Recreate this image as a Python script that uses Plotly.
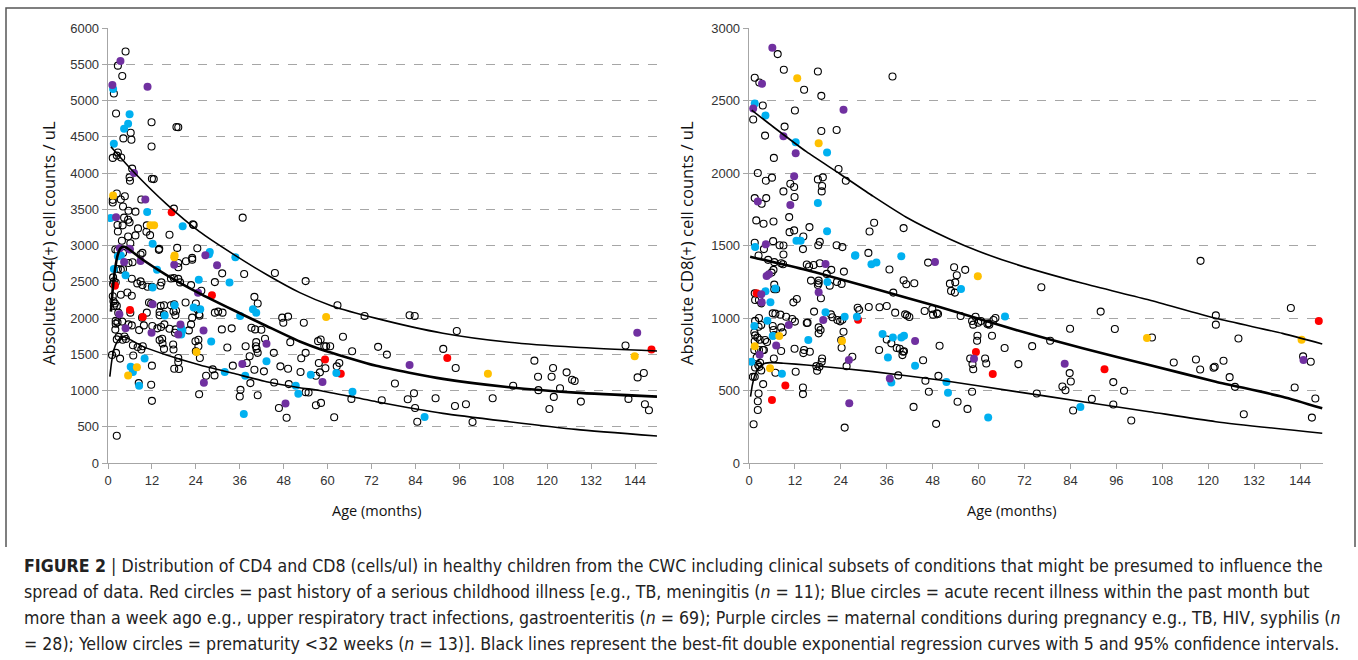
import plotly.graph_objects as go

# ---------------- DATA (age in months, cells/uL) ----------------
CD4_OPEN = [(4.8,5676),(2.7,5481),(3.9,5338),(1.6,5097),(2.2,4820),(6.2,4556),(4.2,4477),(6.4,4458),(11.9,4699),(18.7,4634),(19.2,4630),(11.9,4366),(2.7,4282),(1.3,4208),(3.6,4213),(2.4,4240),(6.6,4060),(5.9,3940),(6.0,3893),(12.0,3921),(12.5,3916),(2.4,3717),(4.6,3680),(1.3,3630),(1.3,3593),(3.5,3634),(9.1,3634),(4.1,3537),(5.6,3480),(7.5,3467),(18.0,3509),(36.8,3384),(4.4,3384),(5.5,3356),(2.6,3282),(4.0,3278),(5.9,3319),(8.2,3236),(10.6,3278),(23.2,3292),(23.4,3282),(2.7,3194),(10.5,3190),(7.5,3139),(5.5,3125),(11.5,3143),(16.8,3148),(3.8,3065),(6.1,3032),(2.0,2944),(13.9,2940),(18.9,2967),(24.4,2963),(8.9,2875),(23.0,2805),
(2.6,2931),(4.1,2898),(14.0,2954),(5.6,2759),(2.7,2676),(3.5,2667),(4.1,2676),(6.7,2769),(9.4,2898),(19.2,2759),(19.2,2699),(23.0,2829),(21.3,2783),(31.2,2616),(37.2,2607),(45.6,2621),(54.0,2509),(25.5,2375),(22.7,2454),(29.2,2495),(18.0,2550),(19.2,2540),(17.2,2545),(19.7,2491),(14.6,2491),(14.3,2445),(12.0,2431),(10.8,2431),(8.0,2477),(8.9,2505),(9.4,2454),(6.5,2542),(1.4,2560),(1.6,2505),(1.4,2470),(2.1,2490),(1.3,2300),(1.5,2230),(1.9,2199),(2.4,2167),(1.6,2167),(5.3,2352),(6.5,2306),(3.5,2320),(11.2,2213),(11.8,2199),(14.4,2167),(15.3,2176),(17.2,2176),(18.1,2190),(21.2,2213),(24.0,2199),(24.4,2120),(6.1,2074),(2.8,2074),(9.3,2005),(2.1,1960),(2.6,1940),(3.9,1950),(8.5,1833),(5.6,1912),(6.5,1898),(14.1,2083),(14.1,2037),(15.3,2051),(18.6,2100),(17.9,2088),(18.4,2037),(15.4,1912),(14.5,1875),(13.5,1857),(16.8,1852),(18.5,1843),(18.3,1796),(23.0,2005),(24.9,2051),(25.0,2030),(29.2,2074),(30.1,2088),(31.3,2074),(31.1,1843),(33.8,1857),(40.0,2292),(40.9,2199),(39.2,1866),(40.2,1843),(41.9,1838),(49.2,2019),(47.6,2005),(47.9,1935),(53.5,1935),(62.7,2176),(70.1,2028),(82.4,2037),(83.8,2028),(95.3,1820),(64.2,1741),(58.1,1704),(57.4,1681),(60.7,1611),(59.6,1611),(59.1,1611),(66.7,1542),(73.8,1602),(76.2,1495),(91.6,1574),(141.4,1620),(116.5,1412),(121.6,1310),(121.2,1190),(117.5,1190),(125.3,1250),(126.8,1148),(127.5,1130),(110.7,1065),(117.6,1005),(123.5,1032),(121.8,912),(129.2,847),(142.2,884),(144.7,1181),(146.4,1241),(146.7,810),(147.8,727),(120.6,745),(105.1,894),(97.8,810),(94.8,787),(95.0,1310),(99.6,565),(89.5,894),(81.9,880),(83.6,963),(83.9,759),(84.5,569),(78.4,1097),(74.8,866),(66.5,884),(62.5,1333),(63.2,1380),(59.4,1306),(57.6,1380),(57.9,1250),(56.8,1204),(58.2,829),(56.8,796),(61.8,630),(52.8,1445),(54.0,1519),(49.8,1667),(45.3,1519),(49.2,1301),(47.1,1333),(52.6,1255),(54.0,977),(54.8,972),(49.4,1088),(45.4,1111),(46.7,759),(48.8,625),(42.9,1713),(40.5,1667),(40.4,1611),(40.6,1574),(40.9,1519),(37.6,1611),(37.9,1380),(38.7,1472),(38.9,1102),(36.2,1009),(36.0,917),(40.9,935),(40.0,1287),(42.6,1264),(34.1,1343),(32.6,1593),(28.6,1292),(29.1,1208),(26.8,1204),(24.9,949),(24.0,1540),(24.7,1610),(23.9,1680),(24.7,1700),(25.1,1449),(22.1,1829),(22.7,1912),(19.2,1394),(19.2,1449),(19.4,1296),(18.1,1301),(17.9,1565),(17.8,1634),(15.3,1574),(14.9,1648),(14.1,1695),(14.8,1713),(12.0,1343),(11.8,1079),(12.0,857),(8.4,1102),(9.1,1565),(9.5,1611),(8.1,1600),(6.8,1625),(6.9,1482),(3.3,1440),(2.2,1519),(1.1,1491),(2.4,375),(4.0,1700),(4.9,1710),(4.5,1745),(2.9,1740),(2.4,1705),(2.0,1840),(2.1,1920),(9.8,1898),(12.1,1889),(10.6,2074)]
CD4_RED = [(17.4,3458),(1.9,2445),(28.4,2315),(6.0,2111),(9.5,2014),(59.3,1426),(63.6,1232),(92.7,1449),(148.5,1565)]
CD4_BLUE = [(1.4,5157),(5.9,4810),(5.5,4680),(4.4,4611),(1.6,4403),(10.7,3463),(0.7,3379),(20.4,3264),(12.2,3023),(27.6,2880),(34.8,2838),(2.7,2852),(3.5,2861),(1.6,2676),(4.8,2588),(13.4,2667),(27.8,2912),(24.8,2528),(33.2,2491),(12.2,2421),(18.2,2176),(25.2,2120),(23.4,2144),(15.5,2033),(20.0,1862),(20.3,1829),(20.0,1773),(36.1,2028),(39.6,2120),(40.5,2074),(43.3,1403),(37.5,1204),(37.1,676),(28.2,1676),(31.9,1255),(10.0,1440),(8.5,1065),(6.2,1329),(6.8,1255),(62.4,1241),(55.4,1218),(52.0,954),(51.3,1065),(66.8,982),(86.5,634)]
CD4_PURPLE = [(3.4,5546),(1.2,5213),(10.8,5190),(7.1,4000),(10.2,3634),(2.2,3388),(6.0,2944),(3.2,2963),(5.8,2954),(4.4,2773),(8.9,2787),(18.1,2736),(26.6,2866),(29.8,2727),(24.6,2347),(12.2,2190),(3.1,2051),(4.8,1857),(19.8,1912),(19.2,1773),(11.9,1796),(26.1,1829),(43.3,1644),(36.7,1366),(26.2,1107),(48.5,819),(58.6,1116),(82.4,1352),(144.6,1796)]
CD4_YELLOW = [(1.4,3690),(11.6,3278),(12.6,3278),(18.1,2838),(18.2,2861),(24.2,1532),(7.9,1320),(5.5,1208),(59.6,2014),(103.8,1232),(143.9,1472)]

# curves (age, value)
CD4_P95 = [(0.8,4363),(6.9,4020),(16,3570),(25,3190),(34.2,2880),(43.3,2600),(52.4,2350),(61,2170),(73.3,1995),(91.5,1790),(109.6,1665),(127.8,1596),(150,1545)]
CD4_MED = [(0.8,2087),(1.3,2400),(1.9,2660),(2.6,2860),(3.4,2960),(4.3,2985),(5.5,2955),(9.6,2800),(16,2593),(25,2340),(34.2,2110),(43.3,1890),(52.4,1675),(58,1570),(73.3,1340),(91.5,1160),(109.6,1045),(127.8,970),(150,915)]
CD4_P5 = [(0.5,1191),(1.0,1400),(1.6,1560),(2.4,1665),(3.3,1720),(4.6,1738),(6.5,1690),(9.6,1605),(16,1490),(25.1,1352),(34.2,1237),(43.3,1122),(52.4,1039),(57.8,1000),(73.3,846),(91.5,685),(109.6,570),(127.8,464),(150,372)]

CD8_OPEN = [(7.5,2820),(9.1,2712),(18.0,2700),(37.5,2666),(1.5,2657),(2.7,2624),(14.4,2574),(18.9,2532),(3.6,2465),(12.0,2431),(1.1,2369),(9.3,2320),(18.9,2290),(22.9,2297),(4.2,2258),(6.5,2104),(23.4,2028),(25.3,1947),(2.3,2000),(18.0,1956),(19.3,1970),(4.4,1947),(6.0,1968),(10.8,1926),(11.8,1903),(19.1,1910),(19.0,1873),(9.0,1873),(1.5,1827),(4.5,1827),(3.3,1788),(11.9,1834),(10.5,1696),(1.9,1673),(3.8,1650),(6.4,1666),(32.7,1657),(31.5,1597),(40.4,1620),(15.8,1627),(11.8,1604),(10.6,1592),(14.2,1562),(14.1,1475),(18.5,1525),(18.1,1502),(1.5,1519),(3.9,1475),(6.3,1530),(8.0,1502),(9.0,1500),(9.0,1438),(22.9,1502),(24.4,1489),(31.2,1449),(2.5,1431),
(5.0,1401),(6.6,1385),(8.4,1378),(8.9,1371),(15.1,1369),(15.7,1355),(18.5,1378),(16.9,1366),(21.5,1332),(20.3,1304),(16.2,1258),(18.2,1258),(18.2,1240),(18.0,1228),(21.1,1223),(23.0,1249),(24.2,1235),(24.8,1320),(36.7,1334),(46.8,1382),(53.6,1350),(54.3,1295),(53.9,1246),(52.8,1187),(53.8,1175),(56.5,1332),(52.5,1237),(43.2,1240),(40.4,1260),(41.1,1233),(28.4,1071),(28.8,1055),(31.3,1076),(34.1,1074),(36.0,1083),(37.7,1175),(38.2,1037),(40.8,1025),(41.3,1018),(41.9,1007),(45.9,1048),(47.9,1062),(48.1,1023),(49.1,1032),(49.4,1028),(55.3,1014),(59.2,1009),(59.9,968),(60.6,979),(59.7,878),(59.6,843),(58.3,979),(58.6,954),(62.3,958),(62.6,963),(62.8,954),(64.4,1000),(63.9,986),(63.5,878),(66.8,793),(70.4,682),(74.0,806),(76.4,1212),(78.7,843),(83.9,926),(91.9,1044),(95.6,924),(105.3,866),(118.0,1394),(122.0,1018),(122.0,954),(141.6,1069),(144.8,735),(146.8,698),(127.9,859),(124.0,705),(121.4,657),(121.7,664),(116.8,714),(117.9,645),(111.0,693),(125.6,592),(127.0,525),(129.3,336),(142.6,521),(148.0,445),(147.1,313),(83.8,620),(84.1,562),(81.9,528),(82.7,502),(84.7,362),(89.6,442),(95.2,558),(95.2,403),(98.0,498),(99.9,293),(75.2,479),(57.8,721),(58.4,682),(58.6,647),(58.3,491),(57.1,373),(61.7,721),(62.0,686),(49.8,809),(49.5,601),(48.9,270),(47.0,491),(46.1,567),(45.5,709),(54.5,422),(43.0,387),(40.3,767),(40.1,744),(40.5,771),(37.2,825),(36.0,852),(38.6,793),(39.4,788),(39.0,604),(34.0,779),(25.5,668),(27.0,733),(25.0,244),(24.2,795),(24.1,848),(24.7,905),(23.1,986),(23.8,977),(24.4,988),(21.4,1025),(21.8,1005),(18.2,935),(18.7,917),(18.2,894),(19.1,721),(18.4,663),(19.0,698),(17.8,636),(17.6,668),(18.8,1136),(17.0,1044),(15.3,968),(15.1,965),(15.9,767),(14.4,779),(14.2,758),(14.1,521),(14.1,475),(11.9,788),(12.2,629),(11.3,993),(12.0,975),(11.6,1108),(12.5,1131),(8.2,1023),(9.7,1009),(8.4,935),(8.8,901),(8.4,772),(6.2,1032),(6.9,1030),(6.2,945),(6.4,917),(6.6,882),(6.5,721),(6.9,622),(6.6,1230),(6.6,1198),(7.1,1198),(5.9,1313),(6.4,1332),(1.5,1170),(1.6,1124),(2.6,1124),(3.2,1101),(1.6,980),(2.6,1000),(2.5,940),(3.2,952),(1.4,900),(1.6,880),(2.2,865),(2.8,850),(1.5,840),(1.4,779),(2.6,779),(3.6,779),(4.2,848),(4.7,834),(3.9,779),(2.0,728),(2.9,691),(1.6,659),(2.7,663),(3.2,638),(1.5,594),(1.0,594),(3.7,544),(2.5,479),(2.3,426),(2.3,366),(1.2,267),(2.4,675)]
CD8_RED = [(2.0,1170),(28.5,988),(59.3,765),(63.7,613),(92.9,647),(148.9,979),(9.5,535),(6.0,435)]
CD8_BLUE = [(1.5,2479),(4.3,2396),(12.2,2212),(20.4,2141),(18.0,1793),(20.4,1599),(13.5,1532),(12.4,1532),(1.6,1489),(27.7,1429),(39.8,1426),(27.8,1433),(32.0,1371),(33.3,1382),(20.5,1249),(55.4,1200),(28.2,1009),(66.9,1011),(62.5,313),(51.6,558),(52.0,484),(43.4,670),(39.8,866),(40.5,877),(37.6,866),(34.9,889),(36.3,728),(37.2,555),(25.0,1009),(20.0,1039),(15.5,848),(8.6,615),(6.2,876),(5.6,1108),(6.9,1203),(4.3,1184),(4.8,981),(1.4,945),(0.6,698),(86.6,387)]
CD8_PURPLE = [(6.1,2864),(3.4,2615),(1.1,2445),(24.7,2436),(9.0,2253),(12.2,2136),(11.8,1977),(2.3,1804),(10.8,1779),(4.4,1509),(20.0,1373),(48.6,1387),(4.6,1290),(5.2,1302),(3.2,1164),(3.3,1108),(18.2,1177),(19.4,986),(10.4,952),(7.1,811),(2.8,746),(26.1,710),(26.2,412),(36.8,583),(43.4,841),(58.8,719),(82.5,684),(144.9,710)]
CD8_YELLOW = [(12.6,2654),(18.2,2205),(59.8,1288),(24.3,841),(7.9,876),(1.5,806),(5.5,654),(104.0,862),(144.4,850)]

CD8_P95 = [(0.7,2434),(6.3,2319),(15,2147),(23.7,1995),(32.4,1840),(41.1,1695),(52.4,1545),(60,1460),(69.8,1370),(87.2,1239),(104.6,1124),(122,998),(139.4,894),(149.8,821)]
CD8_MED = [(0.3,1423),(15,1331),(32.4,1205),(49.8,1075),(69.8,917),(87.2,791),(104.6,676),(122,561),(139.4,457),(149.8,377)]
CD8_P5 = [(0.4,457),(0.9,540),(1.6,610),(2.5,655),(3.6,682),(5.5,692),(9,688),(15,676),(32.4,630),(49.8,572),(69.8,492),(87.2,423),(104.6,354),(122,285),(149.8,205)]

X_TICKS = list(range(0, 145, 12))
CD4_TICKS = list(range(0, 6001, 500))
CD8_TICKS = list(range(0, 3001, 500))

CAPTION = [
    "<b>FIGURE 2</b> | Distribution of CD4 and CD8 (cells/ul) in healthy children from the CWC including clinical subsets of conditions that might be presumed to influence the",
    "spread of data. Red circles = past history of a serious childhood illness [e.g., TB, meningitis (<i>n</i> = 11); Blue circles = acute recent illness within the past month but",
    "more than a week ago e.g., upper respiratory tract infections, gastroenteritis (<i>n</i> = 69); Purple circles = maternal conditions during pregnancy e.g., TB, HIV, syphilis (<i>n</i>",
    "= 28); Yellow circles = prematurity &lt;32 weeks (<i>n</i> = 13)]. Black lines represent the best-fit double exponential regression curves with 5 and 95% confidence intervals.",
]

# ---------------- FIGURE ----------------
W, H = 1358, 660
fig = go.Figure()

def xs(p): return [a for a, b in p]
def ys(p): return [b for a, b in p]

COLORS = {"red": "#FF0000", "blue": "#00B0F0", "purple": "#7030A0", "yellow": "#FFC000"}

def add_panel(xa, ya, opn, red, blue, purple, yellow, p95, med, p5):
    fig.add_trace(go.Scatter(x=xs(opn), y=ys(opn), mode="markers", xaxis=xa, yaxis=ya,
                             marker=dict(symbol="circle-open", size=7, color="black", line=dict(width=1.1)),
                             showlegend=False, hoverinfo="skip"))
    for grp, col in ((red, "red"), (blue, "blue"), (purple, "purple"), (yellow, "yellow")):
        fig.add_trace(go.Scatter(x=xs(grp), y=ys(grp), mode="markers", xaxis=xa, yaxis=ya,
                                 marker=dict(symbol="circle", size=8, color=COLORS[col], line=dict(width=0)),
                                 showlegend=False, hoverinfo="skip"))
    for crv, w in ((p95, 1.6), (med, 2.6), (p5, 1.6)):
        fig.add_trace(go.Scatter(x=xs(crv), y=ys(crv), mode="lines", xaxis=xa, yaxis=ya,
                                 line=dict(color="black", width=w, shape="spline", smoothing=0.6),
                                 showlegend=False, hoverinfo="skip"))

add_panel("x", "y", CD4_OPEN, CD4_RED, CD4_BLUE, CD4_PURPLE, CD4_YELLOW, CD4_P95, CD4_MED, CD4_P5)
add_panel("x2", "y2", CD8_OPEN, CD8_RED, CD8_BLUE, CD8_PURPLE, CD8_YELLOW, CD8_P95, CD8_MED, CD8_P5)

TICKFONT = dict(family="Liberation Sans, Arial, sans-serif", size=13, color="#333333")
AX = dict(showline=True, linecolor="#A6A6A6", linewidth=1.3, ticks="outside", ticklen=5,
          tickcolor="#A6A6A6", tickfont=TICKFONT, zeroline=False, fixedrange=True, automargin=False)

def px_x(p): return p / W
def px_y(p): return 1 - p / H

fig.update_layout(
    template="none",
    width=W, height=H, autosize=False, margin=dict(l=0, r=0, t=0, b=0, pad=0),
    paper_bgcolor="white", plot_bgcolor="white", showlegend=False,
    xaxis=dict(domain=[px_x(108), px_x(657)], range=[0, 150], tickvals=X_TICKS, showgrid=False, anchor="y", **AX),
    yaxis=dict(domain=[px_y(463), px_y(28)], range=[0, 6000], tickvals=CD4_TICKS, showgrid=True,
               gridcolor="#A6A6A6", griddash="dash", gridwidth=1, anchor="x", **AX),
    xaxis2=dict(domain=[px_x(749), px_x(1323)], range=[0, 150], tickvals=X_TICKS, showgrid=False, anchor="y2", **AX),
    yaxis2=dict(domain=[px_y(463), px_y(28)], range=[0, 3000], tickvals=CD8_TICKS, showgrid=True,
                gridcolor="#A6A6A6", griddash="dash", gridwidth=1, anchor="x2", **AX),
)

TITLEFONT = dict(family="Open Sans, Liberation Sans, sans-serif", size=16.6, color="#111111")
ann = [
    dict(x=px_x(48), y=px_y(243), text="Absolute CD4(+) cell counts / uL", textangle=-90, font=TITLEFONT),
    dict(x=px_x(686), y=px_y(243), text="Absolute CD8(+) cell counts / uL", textangle=-90, font=TITLEFONT),
    dict(x=px_x(377), y=px_y(510), text="Age (months)", font=dict(TITLEFONT, size=14.5)),
    dict(x=px_x(1012), y=px_y(510), text="Age (months)", font=dict(TITLEFONT, size=14.5)),
]
for i, line in enumerate(CAPTION):
    ann.append(dict(x=px_x(22), y=px_y(566 + 26 * i), text=line, xanchor="left",
                    font=dict(family="Liberation Sans Narrow, DejaVu Sans Condensed, Liberation Sans, sans-serif",
                              size=17.6, color="#222222")))
for a in ann:
    a.setdefault("xanchor", "center")
    a.update(xref="paper", yref="paper", yanchor="middle", showarrow=False)
fig.update_layout(annotations=ann)

fig.add_shape(type="path", xref="paper", yref="paper",
              path=f"M {px_x(6)},{px_y(547)} L {px_x(6)},{px_y(8)} L {px_x(1355)},{px_y(8)} L {px_x(1355)},{px_y(547)}",
              line=dict(color="#555555", width=1.5))

fig.write_html("out.html", config={"displayModeBar": False, "staticPlot": True},
               post_script="document.body.style.margin='0';document.body.style.overflow='hidden';")
